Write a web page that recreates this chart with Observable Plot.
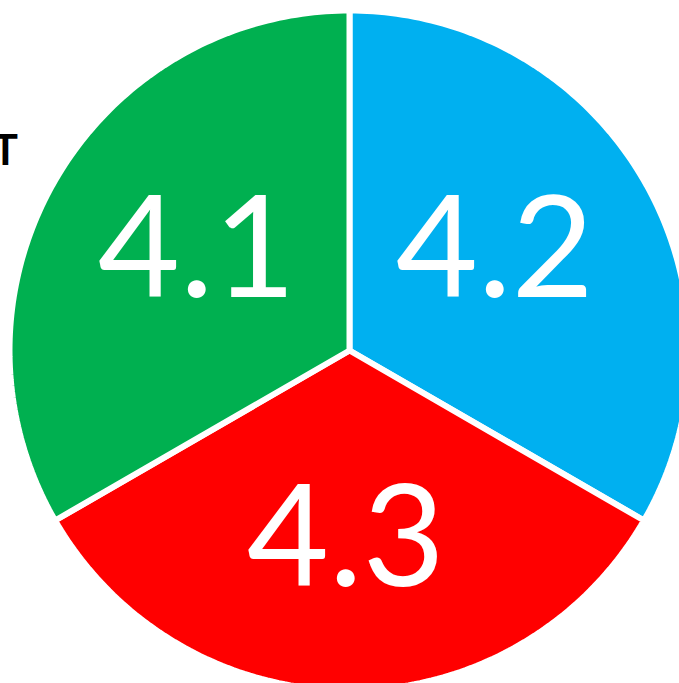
<!DOCTYPE html>
<html>
<head>
<meta charset="utf-8">
<script src="https://cdn.jsdelivr.net/npm/d3@7"></script>
<script src="https://cdn.jsdelivr.net/npm/@observablehq/plot@0.6"></script>
<style>
  html, body { margin: 0; padding: 0; background: #fff; overflow: hidden; }
  #wrap { position: relative; width: 679px; height: 683px; overflow: hidden; }
  #title { position: absolute; left: -60px; width: 78px; top: 128px; text-align: right;
           font-family: Lato, "Liberation Sans", sans-serif; font-weight: 700; font-size: 42px;
           line-height: 1; color: #000; white-space: nowrap; }
  svg { overflow: hidden; }
</style>
</head>
<body>
<div id="wrap"><div id="title">T</div></div>
<script>
// Slices, clockwise from 12 o'clock
const labels = ["4.2", "4.3", "4.1"];
const values = [1, 1, 1];
const colors = ["#00B0F0", "#FF0000", "#00B050"];

const slices = d3.pie().sort(null).value(d => d)(values).map((a, i) => ({
  label: labels[i], color: colors[i], a0: a.startAngle, a1: a.endAngle
}));

// outline points of each wedge (center -> arc -> center)
const pts = [];
for (const s of slices) {
  pts.push({key: s.label, color: s.color, x: 0, y: 0});
  const n = 120;
  for (let k = 0; k <= n; k++) {
    const a = s.a0 + (s.a1 - s.a0) * k / n;
    pts.push({key: s.label, color: s.color, x: Math.sin(a), y: Math.cos(a)});
  }
  pts.push({key: s.label, color: s.color, x: 0, y: 0});
}

const labelPts = slices.map(s => {
  const m = (s.a0 + s.a1) / 2;
  return {label: s.label, x: 0.506 * Math.sin(m) - 0.011, y: 0.568 * Math.cos(m) + 0.008};
});

const chart = Plot.plot({
  width: 679,
  height: 683,
  margin: 0,
  style: {fontFamily: "Lato, 'Liberation Sans', sans-serif", background: "transparent"},
  x: {domain: [-1, 1], range: [9, 689], axis: null},
  y: {domain: [-1, 1], range: [690, 10], axis: null},
  marks: [
    Plot.line(pts, {x: "x", y: "y", z: "key", fill: "color", stroke: "white",
                    strokeWidth: 6, strokeLinejoin: "miter", curve: "linear"}),
    Plot.text(labelPts, {x: "x", y: "y", text: "label", fill: "white",
                         fontSize: 142, textAnchor: "middle"})
  ]
});
chart.style.position = "absolute";
chart.style.left = "0px";
chart.style.top = "0px";
document.getElementById("wrap").insertBefore(chart, document.getElementById("title"));
</script>
</body>
</html>
